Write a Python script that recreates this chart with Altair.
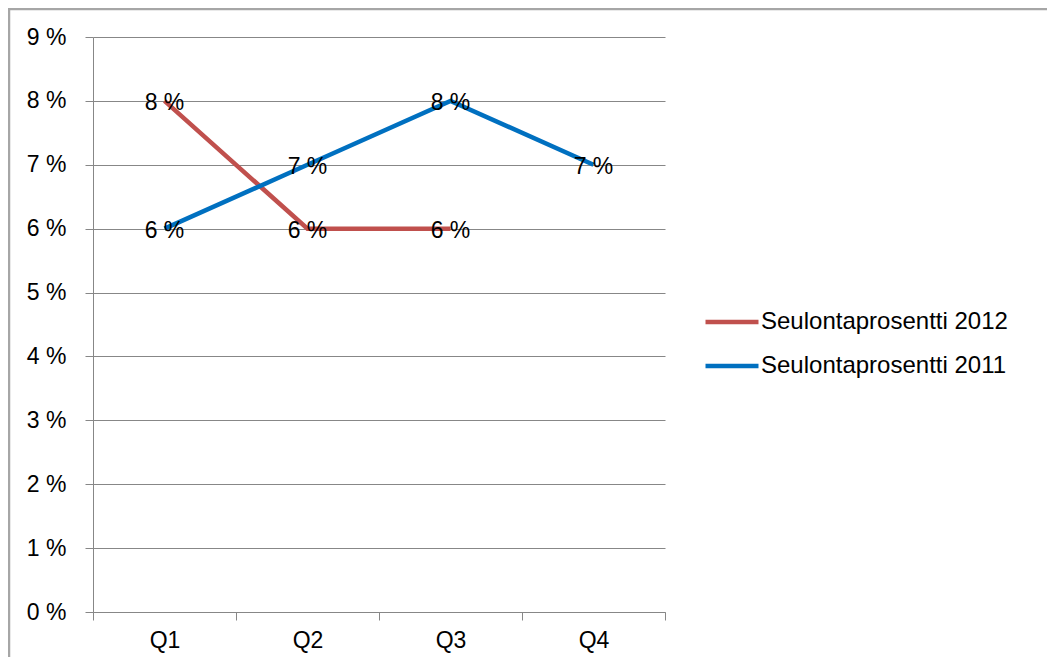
import altair as alt
import pandas as pd

quarters = ["Q1", "Q2", "Q3", "Q4"]
series_names = ["Seulontaprosentti 2012", "Seulontaprosentti 2011"]
values_2012 = [8, 6, 6, None]
values_2011 = [6, 7, 8, 7]
series_colors = ["#C0504D", "#0070C0"]
y_ticks = [0, 1, 2, 3, 4, 5, 6, 7, 8, 9]

rows = []
for name, vals in zip(series_names, [values_2012, values_2011]):
    for q, v in zip(quarters, vals):
        if v is not None:
            rows.append({"Neljännes": q, "Sarja": name, "Arvo": v, "Teksti": f"{v} %"})
df = pd.DataFrame(rows)

FONT = "Liberation Sans"
FS = 23
LFS = 24
GRAY = "#878787"

x_enc = alt.X(
    "Neljännes:N",
    sort=quarters,
    bandPosition=0.5,
    scale=alt.Scale(type="band", domain=quarters, paddingInner=0, paddingOuter=0),
    axis=alt.Axis(
        title=None, tickBand="extent", labelAngle=0, labelFontSize=FS, labelFont=FONT,
        labelColor="#000000", domainColor=GRAY, tickColor=GRAY, tickSize=8,
        labelPadding=9, grid=False,
    ),
)
y_enc = alt.Y(
    "Arvo:Q",
    scale=alt.Scale(domain=[0, 9], nice=False),
    axis=alt.Axis(
        title=None, values=y_ticks, labelExpr="datum.value + ' %'", labelFontSize=FS,
        labelFont=FONT, labelColor="#000000", domainColor=GRAY, tickColor=GRAY,
        tickSize=8, labelPadding=19, gridColor=GRAY, gridWidth=1,
    ),
)
color_enc = alt.Color(
    "Sarja:N",
    sort=series_names,
    scale=alt.Scale(domain=series_names, range=series_colors),
    legend=alt.Legend(
        orient="none", legendX=627, legendY=273, title=None,
        symbolType="M-3,0H3", symbolSize=312, symbolStrokeWidth=4.5,
        labelFontSize=LFS, labelFont=FONT, labelColor="#000000",
        labelOffset=17, rowPadding=20, labelLimit=0,
    ),
)

border = alt.Chart(alt.Data(values=[{}])).mark_rect(
    fill=None, stroke="#A6A6A6", strokeWidth=2.5
).encode(
    x=alt.value(-84), x2=alt.value(1100), y=alt.value(-28), y2=alt.value(800)
)

lines = alt.Chart(df).mark_line(strokeWidth=4.5).encode(
    x=x_enc, y=y_enc, color=color_enc, detail="Sarja:N"
)

labels = alt.Chart(df).mark_text(
    fontSize=FS, font=FONT, color="#000000", align="center", baseline="middle", dy=2
).encode(
    x=alt.X("Neljännes:N", sort=quarters, bandPosition=0.5),
    y="Arvo:Q",
    text="Teksti:N",
)

chart = alt.layer(border, lines, labels).properties(
    width=572, height=575,
    autosize=alt.AutoSizeParams(type="none"),
    padding={"left": 85, "top": 29, "right": 382, "bottom": 45},
    background="#FFFFFF",
).configure_view(strokeWidth=0)

chart.save("out.html", embed_options={"renderer": "svg", "actions": False})
